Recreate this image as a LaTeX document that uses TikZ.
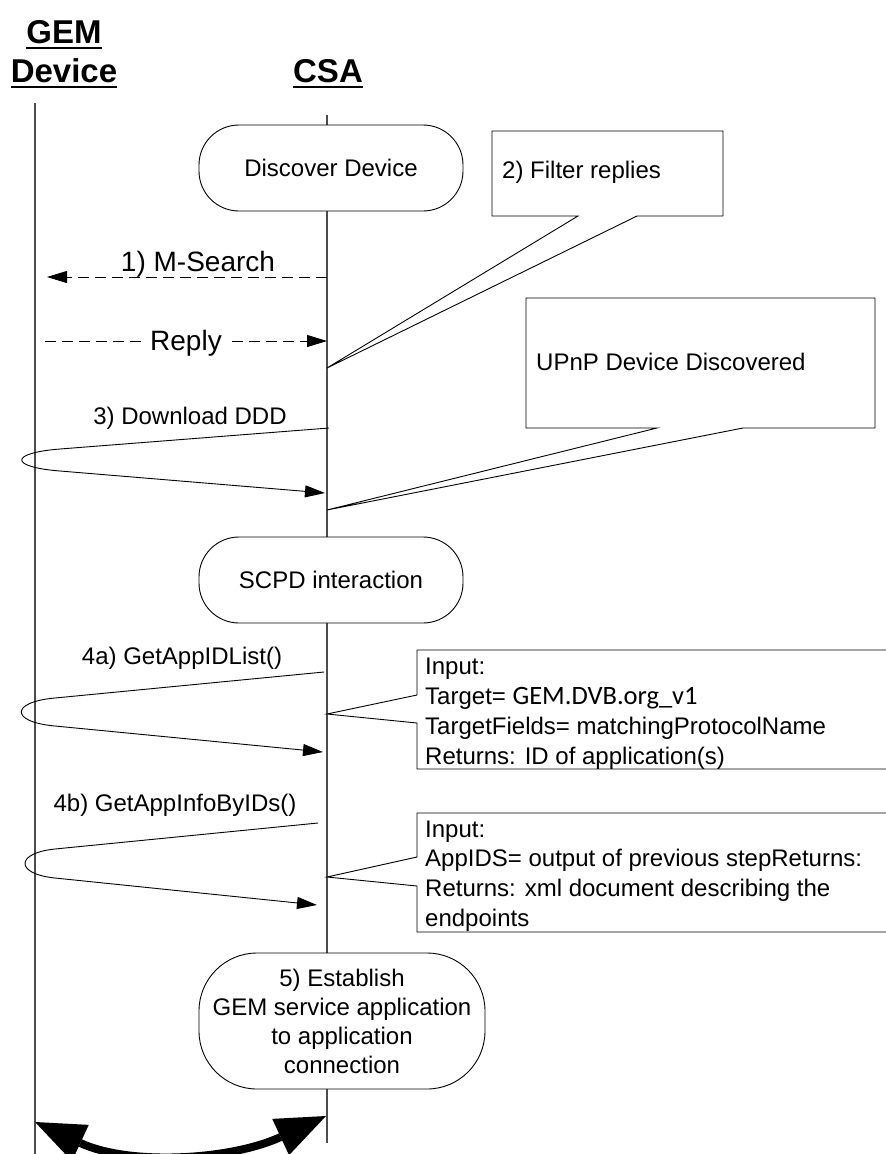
\documentclass[tikz,border=0pt]{standalone}
\usepackage{fontspec}
\setmainfont{Liberation Sans}
\newfontfamily\calibfont{Carlito}
\usetikzlibrary{arrows.meta}
\begin{document}
\begin{tikzpicture}[x=1pt,y=-1pt,
  life/.style={draw=black!70, line width=1.2pt},
  thinln/.style={draw=black, line width=0.9pt},
  dashln/.style={draw=black, line width=1pt, dash pattern=on 11pt off 6pt},
  msgtip/.style={-{Triangle[length=20pt,width=12pt]}},
  hdr/.style={inner sep=0pt, font=\bfseries\fontsize{33}{40}\selectfont},
  txt/.style={inner sep=0pt, font=\fontsize{24}{29}\selectfont},
  bigtxt/.style={inner sep=0pt, font=\fontsize{28}{34}\selectfont},
  rbox/.style={draw=black, line width=0.9pt, fill=white, inner sep=0pt,
    align=center, font=\fontsize{24}{29}\selectfont},
  callout/.style={draw=black, line width=0.9pt, fill=white},
  bigarrow/.style={line width=8pt,
    {Triangle[length=50pt,width=40pt,line width=0pt]}-{Triangle[length=50pt,width=40pt,line width=0pt]}}
]
\useasboundingbox (0,0) rectangle (886,1154);

% lifelines
\coordinate (gtop) at (35,103);
\coordinate (gbot) at (35,1154);
\coordinate (ctop) at (327,115);
\coordinate (cbot) at (327,1143);
\draw[life] (gtop) -- (gbot);
\draw[life] (ctop) -- (cbot);

% headers
\node[hdr, anchor=base] (gem1) at (64,43) {GEM};
\node[hdr, anchor=base] (gem2) at (64,82) {Device};
\node[hdr, anchor=base] (csa) at (328,82) {CSA};
\foreach \n in {gem1,gem2,csa}
  \draw[line width=2.6pt] ([yshift=-5pt]\n.base west) -- ([yshift=-5pt]\n.base east);

% Discover Device
\node[rbox, rounded corners=40pt, minimum width=264pt, minimum height=86pt] (disc) at (331,168) {Discover Device};

% 1) M-Search
\coordinate (msa) at (327,277);
\coordinate (msb) at (47,277);
\draw[dashln, msgtip] (msa) -- (msb);
\node[bigtxt, anchor=base] (mslbl) at (198,271) {1) M-Search};

% Reply
\coordinate (rpa) at (45,341);
\coordinate (rpb) at (327,341);
\draw[dashln, msgtip] (rpa) -- (rpb);
\node[bigtxt, anchor=base, fill=white, inner xsep=5pt] (rplbl) at (186,350) {Reply};

% 2) Filter replies callout
\coordinate (tipf) at (327,368);
\draw[callout] (492,131) -- (723,131) -- (723,216) -- (637,216) -- (tipf) -- (578,216) -- (492,216) -- cycle;
\node[txt, anchor=west] (filt) at (502,172) {2) Filter replies};

% UPnP Device Discovered callout
\coordinate (tipu) at (327,510);
\draw[callout] (526,298) -- (875,298) -- (875,428) -- (743,428) -- (tipu) -- (657,428) -- (526,428) -- cycle;
\node[txt, anchor=west] (upnp) at (536,362) {UPnP Device Discovered};

% 3) Download DDD
\coordinate (dda) at (329,428);
\coordinate (ddb) at (325,493);
\draw[thinln, msgtip] (dda) -- (60,449) .. controls (9,453) and (9,467) .. (60,471) -- (ddb);
\node[txt, anchor=base] (ddlbl) at (190,424) {3) Download DDD};

% SCPD interaction
\node[rbox, rounded corners=40pt, minimum width=264pt, minimum height=86pt] (scpd) at (331,580) {SCPD interaction};

% 4a) GetAppIDList()
\coordinate (fa) at (324,672);
\coordinate (fb) at (323,752);
\draw[thinln, msgtip] (fa) -- (55,698) .. controls (10,702) and (10,722) .. (55,726) -- (fb);
\node[txt, anchor=base] (falbl) at (182,664) {4a) GetAppIDList()};

% Input box 1
\coordinate (tipi1) at (327,714);
\draw[callout] (417,650) -- (892,650) -- (892,769) -- (417,769) -- (417,723) -- (tipi1) -- (417,695) -- cycle;
\node[txt, anchor=base west] (i1a) at (425,674) {Input:};
\node[txt, anchor=base west] (i1b) at (425,704) {Target= {\calibfont\fontsize{26.5}{30}\selectfont GEM.DVB.org\_v1}};
\node[txt, anchor=base west] (i1c) at (425,734) {TargetFields= matchingProtocolName};
\node[txt, anchor=base west] (i1d) at (425,764) {Returns: ID of application(s)};

% 4b) GetAppInfoByIDs()
\coordinate (fba) at (318,823);
\coordinate (fbb) at (317,905);
\draw[thinln, msgtip] (fba) -- (55,849) .. controls (15,853) and (15,874) .. (55,878) -- (fbb);
\node[txt, anchor=base] (fblbl) at (175,811) {4b) GetAppInfoByIDs()};

% Input box 2
\coordinate (tipi2) at (327,877);
\draw[callout] (417,813) -- (892,813) -- (892,932) -- (417,932) -- (417,886) -- (tipi2) -- (417,857) -- cycle;
\node[txt, anchor=base west] (i2a) at (425,837) {Input:};
\node[txt, anchor=base west] (i2b) at (425,866) {AppIDS= output of previous stepReturns:};
\node[txt, anchor=base west] (i2c) at (425,896) {Returns: xml document describing the};
\node[txt, anchor=base west] (i2d) at (425,926) {endpoints};

% 5) Establish
\node[rbox, rounded corners=58pt, minimum width=286pt, minimum height=136pt] (est) at (342,1021)
  {5) Establish\\GEM service application\\to application\\connection};

% bottom bidirectional arrow
\coordinate (bal) at (35,1122);
\coordinate (bar) at (326,1116);
\draw[bigarrow] (bal) .. controls (130,1166) and (231,1160) .. (bar);
\end{tikzpicture}
\end{document}
